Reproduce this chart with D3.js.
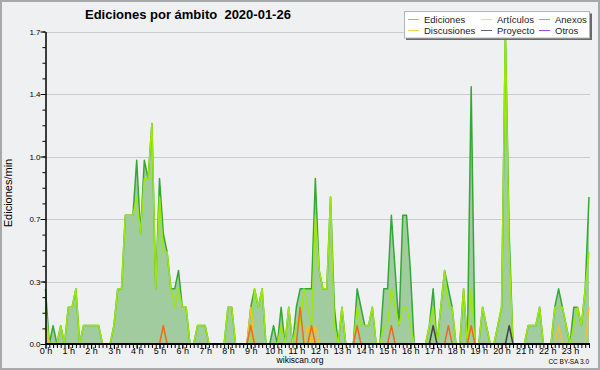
<!DOCTYPE html>
<html>
<head>
<meta charset="utf-8">
<script src="https://cdn.jsdelivr.net/npm/d3@7"></script>
<style>
  html, body { margin: 0; padding: 0; background: #eff0f2; }
  svg { display: block; font-family: "Liberation Sans", Arial, sans-serif; }
</style>
</head>
<body>
<script>
// 10-minute slots, 0 h .. 23:50
const slots = d3.range(144);
const hourLabels = ['0 h','1 h','2 h','3 h','4 h','5 h','6 h','7 h','8 h','9 h','10 h','11 h',
  '12 h','13 h','14 h','15 h','16 h','17 h','18 h','19 h','20 h','21 h','22 h','23 h'];
const yTicks = [0, 0.34, 0.68, 1.02, 1.36, 1.7];

// edits per minute, one value per 10-minute slot
const ediciones = [
  0.3, 0, 0.1, 0, 0.1, 0, 0.2, 0.2, 0.3, 0, 0.1, 0.1,
  0.1, 0.1, 0.1, 0, 0, 0, 0.1, 0.3, 0.3, 0.7, 0.7, 0.7,
  1.0, 0.6, 1.0, 0.9, 1.2, 0.3, 0.9, 0.6, 0.5, 0.3, 0.3, 0.4,
  0.2, 0.2, 0, 0, 0.1, 0.1, 0.1, 0, 0, 0, 0, 0,
  0.2, 0.2, 0, 0, 0, 0, 0.2, 0.3, 0.2, 0.3, 0, 0,
  0.1, 0, 0.2, 0, 0.2, 0, 0.2, 0.3, 0.3, 0.3, 0.3, 0.9,
  0.4, 0.3, 0.3, 0.8, 0.2, 0, 0.2, 0, 0, 0, 0.3, 0.2,
  0.1, 0.1, 0.2, 0, 0, 0.3, 0.3, 0.7, 0.4, 0.1, 0.7, 0.7,
  0.4, 0, 0, 0, 0, 0.1, 0.3, 0, 0.2, 0.4, 0.3, 0.2,
  0, 0, 0.3, 0, 1.4, 0, 0, 0.2, 0.1, 0, 0, 0.1,
  0.2, 1.7, 0.6, 0, 0, 0, 0, 0.1, 0.1, 0.1, 0.2, 0,
  0, 0, 0.2, 0.3, 0.2, 0.1, 0, 0.2, 0.2, 0.1, 0.3, 0.8
];
const articulos = [
  0.2, 0, 0, 0, 0.1, 0, 0.2, 0.2, 0.3, 0, 0.1, 0.1,
  0.1, 0.1, 0.1, 0, 0, 0, 0.1, 0.3, 0.3, 0.7, 0.7, 0.7,
  0.8, 0.6, 0.9, 0.9, 1.2, 0.3, 0.8, 0.5, 0.5, 0.3, 0.2, 0.3,
  0.2, 0.2, 0, 0, 0.1, 0.1, 0.1, 0, 0, 0, 0, 0,
  0.2, 0.2, 0, 0, 0, 0, 0, 0.3, 0.2, 0.3, 0, 0,
  0, 0, 0.1, 0, 0.2, 0, 0.1, 0.1, 0.3, 0.2, 0.1, 0.7,
  0.4, 0.3, 0.3, 0.8, 0.1, 0, 0.2, 0, 0, 0, 0.2, 0.1,
  0.1, 0.1, 0.2, 0, 0, 0.1, 0.1, 0.3, 0.2, 0.1, 0.2, 0.2,
  0.1, 0, 0, 0, 0, 0.1, 0.2, 0, 0.2, 0.4, 0.2, 0.2,
  0, 0, 0.3, 0, 0.3, 0, 0, 0.2, 0.1, 0, 0, 0.1,
  0.2, 1.7, 0.5, 0, 0, 0, 0, 0.1, 0.1, 0.1, 0.2, 0,
  0, 0, 0.2, 0.2, 0.2, 0.1, 0, 0.1, 0.2, 0.1, 0.3, 0.5
];
const discusiones = [
  0.1, 0, 0, 0, 0, 0, 0, 0, 0, 0, 0, 0,
  0, 0, 0, 0, 0, 0, 0, 0, 0, 0, 0, 0,
  0, 0, 0, 0, 0, 0, 0, 0, 0, 0, 0, 0,
  0, 0, 0, 0, 0, 0, 0, 0, 0, 0, 0, 0,
  0, 0, 0, 0, 0, 0, 0.2, 0, 0, 0, 0, 0,
  0, 0, 0, 0, 0, 0, 0, 0, 0, 0.1, 0, 0.1,
  0, 0, 0, 0, 0, 0, 0, 0, 0, 0, 0, 0,
  0, 0, 0, 0, 0, 0, 0, 0, 0, 0, 0, 0,
  0, 0, 0, 0, 0, 0, 0, 0, 0, 0, 0, 0,
  0, 0, 0, 0, 0, 0, 0, 0, 0, 0, 0, 0,
  0, 0, 0, 0, 0, 0, 0, 0, 0, 0, 0, 0,
  0, 0, 0, 0.1, 0, 0, 0, 0, 0, 0, 0, 0.2
];
const anexos = [
  0, 0, 0, 0, 0, 0, 0, 0, 0, 0, 0, 0,
  0, 0, 0, 0, 0, 0, 0, 0, 0, 0, 0, 0,
  0, 0, 0, 0, 0, 0, 0, 0.1, 0, 0, 0, 0,
  0, 0, 0, 0, 0, 0, 0, 0, 0, 0, 0, 0,
  0, 0, 0, 0, 0, 0, 0.1, 0, 0, 0, 0, 0,
  0, 0, 0, 0, 0, 0, 0, 0.2, 0, 0, 0.1, 0,
  0, 0, 0, 0, 0, 0, 0, 0, 0, 0, 0.1, 0,
  0, 0, 0, 0, 0, 0, 0, 0.1, 0, 0, 0, 0,
  0, 0, 0, 0, 0, 0, 0, 0, 0, 0, 0.1, 0,
  0, 0, 0, 0, 0.1, 0, 0, 0, 0, 0, 0, 0,
  0, 0, 0, 0, 0, 0, 0, 0, 0, 0, 0, 0,
  0, 0, 0, 0, 0, 0, 0, 0, 0, 0, 0, 0
];
const proyecto = [
  0, 0, 0, 0, 0, 0, 0, 0, 0, 0, 0, 0,
  0, 0, 0, 0, 0, 0, 0, 0, 0, 0, 0, 0,
  0, 0, 0, 0, 0, 0, 0, 0, 0, 0, 0, 0,
  0, 0, 0, 0, 0, 0, 0, 0, 0, 0, 0, 0,
  0, 0, 0, 0, 0, 0, 0, 0, 0, 0, 0, 0,
  0, 0, 0, 0, 0, 0, 0, 0, 0, 0, 0, 0,
  0, 0, 0, 0, 0, 0, 0, 0, 0, 0, 0, 0,
  0, 0, 0, 0, 0, 0, 0, 0, 0, 0, 0, 0,
  0, 0, 0, 0, 0, 0, 0.1, 0, 0, 0, 0, 0,
  0, 0, 0, 0, 0, 0, 0, 0, 0, 0, 0, 0,
  0, 0, 0.1, 0, 0, 0, 0, 0, 0, 0, 0, 0,
  0, 0, 0, 0, 0, 0, 0, 0, 0, 0, 0, 0
];
const otros = [
  0, 0, 0, 0, 0, 0, 0, 0, 0, 0, 0, 0,
  0, 0, 0, 0, 0, 0, 0, 0, 0, 0, 0, 0,
  0, 0, 0, 0, 0, 0, 0, 0, 0, 0, 0, 0,
  0, 0, 0, 0, 0, 0, 0, 0, 0, 0, 0, 0,
  0, 0, 0, 0, 0, 0, 0, 0, 0, 0, 0, 0,
  0, 0, 0, 0, 0, 0, 0, 0, 0, 0, 0, 0,
  0, 0, 0, 0, 0, 0, 0, 0, 0, 0, 0, 0,
  0, 0, 0, 0, 0, 0, 0, 0, 0, 0, 0, 0,
  0, 0, 0, 0, 0, 0, 0, 0, 0, 0, 0, 0,
  0, 0, 0, 0, 0, 0, 0, 0, 0, 0, 0, 0,
  0, 0, 0, 0, 0, 0, 0, 0, 0, 0, 0, 0,
  0, 0, 0, 0, 0, 0, 0, 0, 0, 0, 0, 0
];

const width = 600;
const height = 370;

const svg = d3.select('body')
  .append('svg')
  .attr('width', width)
  .attr('height', height);

// background and outer frame
svg.append('rect')
  .attr('x', 1).attr('y', 1)
  .attr('width', width - 2).attr('height', height - 2)
  .attr('fill', '#eff0f2')
  .attr('stroke', '#a9a9a9')
  .attr('stroke-width', 2);

// Scales
const x = d3.scaleLinear().domain([0, 143]).range([45.5, 589]);
const y = d3.scaleLinear().domain([0, 1.7]).range([344, 31.5]);

// Gridlines
svg.append('g')
  .selectAll('line')
  .data(yTicks.slice(1))
  .enter()
  .append('line')
  .attr('x1', 45.5)
  .attr('x2', 590)
  .attr('y1', d => Math.round(y(d)) + 0.5)
  .attr('y2', d => Math.round(y(d)) + 0.5)
  .attr('stroke', '#cbcbcb')
  .attr('stroke-width', 1);

// Ediciones area
const area = d3.area()
  .x((d, i) => x(i))
  .y0(y(0))
  .y1(d => y(d));

svg.append('path')
  .datum(ediciones)
  .attr('d', area)
  .attr('fill', '#a1cca0');

// Lines, drawn in legend order
const series = [
  { name: 'Otros', values: otros, color: '#9a3cf0' },
  { name: 'Ediciones', values: ediciones, color: '#34a834' },
  { name: 'Artículos', values: articulos, color: '#9ce80c' },
  { name: 'Discusiones', values: discusiones, color: '#f2c12e' },
  { name: 'Anexos', values: anexos, color: '#ee6a1e' },
  { name: 'Proyecto', values: proyecto, color: '#444444' }
];

const line = d3.line()
  .x((d, i) => x(i))
  .y(d => y(d));

svg.append('g')
  .selectAll('path')
  .data(series)
  .enter()
  .append('path')
  .attr('d', d => line(d.values))
  .attr('fill', 'none')
  .attr('stroke', d => d.color)
  .attr('stroke-width', 1.5)
  .attr('stroke-linejoin', 'round');

// X axis: minor ticks every 10 min, labels every hour
const xMinor = d3.axisBottom(x)
  .tickValues(slots)
  .tickSize(4)
  .tickSizeOuter(0)
  .tickFormat('');

svg.append('g')
  .attr('transform', 'translate(0, 344)')
  .call(xMinor)
  .call(g => g.select('.domain').attr('stroke-width', 2).attr('d', 'M45.5,0H590'));

const xMajor = d3.axisBottom(x)
  .tickValues(slots.filter(d => d % 6 === 0))
  .tickSize(5)
  .tickFormat(d => hourLabels[d / 6]);

svg.append('g')
  .attr('transform', 'translate(0, 344)')
  .call(xMajor)
  .call(g => g.select('.domain').remove())
  .call(g => g.selectAll('text')
    .attr('y', 4)
    .attr('dy', '0.71em')
    .attr('font-size', 9)
    .attr('font-family', '"Liberation Sans", Arial, sans-serif')
    .attr('fill', '#000'));

// Y axis
const yMinor = d3.axisLeft(y)
  .tickValues(d3.range(0, 21).map(i => i * 0.085))
  .tickSize(3)
  .tickSizeOuter(0)
  .tickFormat('');

svg.append('g')
  .attr('transform', 'translate(45.5, 0)')
  .call(yMinor)
  .call(g => g.select('.domain').attr('stroke-width', 1.5));

const yMajor = d3.axisLeft(y)
  .tickValues(yTicks)
  .tickSize(5)
  .tickFormat(d3.format('.1f'));

svg.append('g')
  .attr('transform', 'translate(45.5, 0)')
  .call(yMajor)
  .call(g => g.select('.domain').remove())
  .call(g => g.selectAll('text')
    .attr('x', -5)
    .attr('font-size', 8)
    .attr('font-family', '"Liberation Sans", Arial, sans-serif')
    .attr('fill', '#000'));

// Titles
svg.append('text')
  .attr('x', 85)
  .attr('y', 18.5)
  .attr('font-size', 13)
  .attr('font-weight', 'bold')
  .attr('xml:space', 'preserve')
  .style('white-space', 'pre')
  .text('Ediciones por ámbito  2020-01-26');

svg.append('text')
  .attr('transform', 'translate(12, 193) rotate(-90)')
  .attr('text-anchor', 'middle')
  .attr('font-size', 11)
  .text('Ediciones/min');

svg.append('text')
  .attr('x', 300)
  .attr('y', 363)
  .attr('text-anchor', 'middle')
  .attr('font-size', 8.5)
  .text('wikiscan.org');

svg.append('text')
  .attr('x', 589)
  .attr('y', 364)
  .attr('text-anchor', 'end')
  .attr('font-size', 6.5)
  .text('CC BY-SA 3.0');

// Legend
const legendItems = [
  { name: 'Ediciones', color: '#7fcf7f', col: 0, row: 0 },
  { name: 'Artículos', color: '#c6f26a', col: 1, row: 0 },
  { name: 'Anexos', color: '#f2875a', col: 2, row: 0 },
  { name: 'Discusiones', color: '#f7d35a', col: 0, row: 1 },
  { name: 'Proyecto', color: '#666666', col: 1, row: 1 },
  { name: 'Otros', color: '#9c4cf0', col: 2, row: 1 }
];
const colX = [408, 481, 539];
const rowY = [22.5, 33.5];

const legend = svg.append('g');

legend.append('rect')
  .attr('x', 406).attr('y', 13.5)
  .attr('width', 186).attr('height', 26.5)
  .attr('fill', '#6a6a6a');

legend.append('rect')
  .attr('x', 404.5).attr('y', 11.5)
  .attr('width', 185).attr('height', 26.5)
  .attr('fill', '#ffffff')
  .attr('stroke', '#b4b4b4')
  .attr('stroke-width', 1);

const items = legend.selectAll('g.item')
  .data(legendItems)
  .enter()
  .append('g')
  .attr('class', 'item')
  .attr('transform', d => `translate(${colX[d.col]}, ${rowY[d.row]})`);

items.append('line')
  .attr('x1', 0).attr('x2', 11)
  .attr('y1', -3).attr('y2', -3)
  .attr('stroke', d => d.color)
  .attr('stroke-width', 1);

items.append('text')
  .attr('x', 16)
  .attr('y', 0)
  .attr('font-size', 9.5)
  .attr('fill', '#222')
  .text(d => d.name);
</script>
</body>
</html>
